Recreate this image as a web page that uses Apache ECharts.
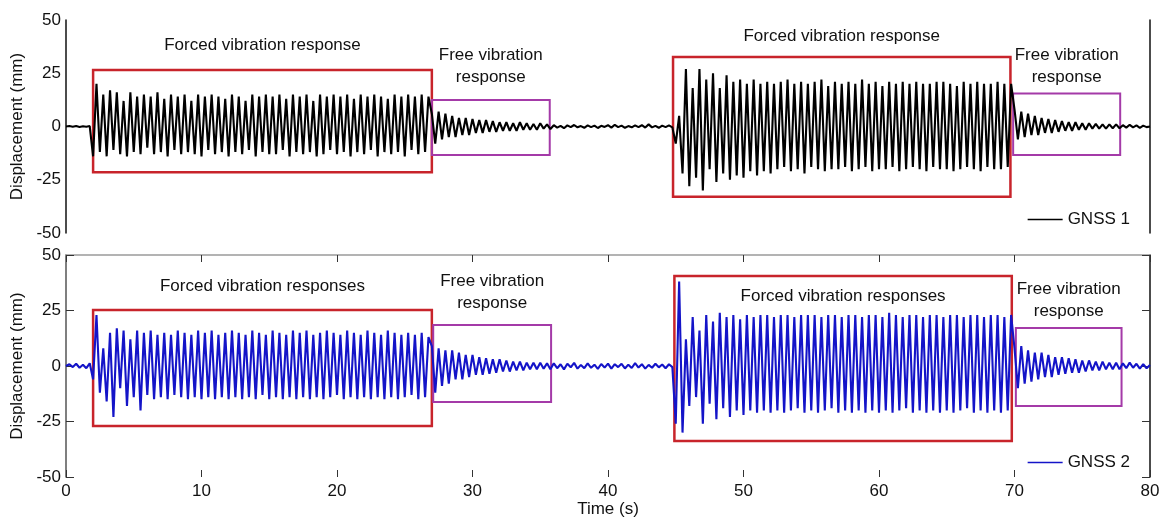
<!DOCTYPE html>
<html>
<head>
<meta charset="utf-8">
<script src="https://cdn.jsdelivr.net/npm/echarts@6.0.0/dist/echarts.min.js"></script>
<style>
  html, body { margin: 0; background: #fff; }
  #chart { width: 1166px; height: 520px; }
</style>
</head>
<body>
<div id="chart"></div>
<script>
// one sample every half cycle (~2 Hz excitation): peaks and troughs
const SAMPLE_STEP = 0.25
const xTicks = [0, 10, 20, 30, 40, 50, 60, 70, 80]
const yTicks = [-50, -25, 0, 25, 50]

// GNSS 1 (black) displacement extremes, mm
const gnss1Pre = [0, 0.2, -0.1, 0.2, -0.2, 0.1, -0.1, 0.2]
const gnss1Forced1 = [
  -14, 20, -12, 15, -14, 17, -11, 16, -13, 12, -14, 16, -12, 14, -13, 15, -10, 14, -13, 16,
  -12, 13, -14, 15, -11, 14, -13, 15, -12, 12, -13, 15, -14, 14, -11, 15, -13, 14, -12, 13,
  -14, 15, -12, 14, -13, 12, -11, 15, -14, 14, -12, 15, -13, 14, -13, 15, -11, 13, -14, 15,
  -12, 14, -13, 15, -12, 12, -14, 15, -13, 14, -11, 15, -13, 14, -12, 15, -14, 13, -12, 15,
  -13, 14, -11, 15, -14, 14, -12, 13, -13, 15, -12, 14, -14, 15, -11, 14, -13, 15, -12, 14,
]
const gnss1Free1 = [
  6, -8, 7, -6, 6, -5, 5, -5, 4, -4, 4, -4, 3.5, -3, 3, -3, 3, -2.5,
  2.5, -2.5, 2, -2, 2, -2, 1.5, -2, 2, -1.5, 1.5, -1.5, 1.2, -1.5, 1.5, -1, 1, -1.2,
]
const gnss1Quiet = [
  0.6, -0.5, 0.3, -0.8, 0.5, -0.3, 0.7, -0.4, 0.2, -0.6, 0.5, -0.3, 0.4, -0.7, 0.3, -0.2, 0.6, -0.5,
  0.8, -0.3, 0.4, -0.6, 0.2, -0.4, 0.5, -0.3, 0.6, -0.5, 1.0, -0.4, 0.3, -0.6, 0.4, -0.3, 0.5, -0.4,
]
const gnss1Forced2 = [
  -8, 5, -22, 27, -28, 18, -24, 27, -30, 22, -20, 25, -26, 18, -22, 24, -25, 21, -23, 22,
  -24, 20, -21, 22, -23, 20, -21, 21, -22, 20, -20, 21, -19, 22, -21, 20, -20, 21, -22, 20,
  -19, 21, -20, 22, -21, 19, -20, 21, -20, 20, -19, 21, -21, 20, -20, 22, -19, 20, -21, 21,
  -20, 19, -20, 21, -19, 20, -21, 21, -20, 20, -19, 21, -20, 20, -21, 20, -19, 21, -20, 21,
  -20, 20, -21, 19, -20, 21, -19, 20, -20, 21, -21, 20, -19, 20, -20, 21, -20, 20, -19, 20,
]
const gnss1Free2 = [
  8, -6, 7, -5, 6, -4, 5, -4, 4, -3, 3.5, -3, 3, -2.5, 2.5, -2,
  2, -2, 2, -1.5, 1.5, -1.5, 1.5, -1, 1.2, -1, 1, -1, 1, -0.8, 1, -0.8,
]
const gnss1Post = [0.6, -0.5, 0.8, -0.4, 0.5, -0.6, 0.4, -0.3, 0]

// GNSS 2 (blue) displacement extremes, mm
const gnss2Pre = [0, 0.8, -0.5, 1, -0.8, 0.6, -1, 1.2]
const gnss2Forced1 = [
  -6, 23, -12, 8, -16, 15, -23, 17, -10, 16, -18, 12, -14, 16, -20, 15, -13, 16, -15, 14,
  -14, 15, -15, 14, -13, 16, -14, 15, -15, 14, -14, 16, -15, 15, -14, 16, -15, 14, -14, 15,
  -15, 16, -14, 15, -15, 14, -14, 16, -15, 15, -13, 14, -15, 16, -14, 15, -15, 14, -14, 16,
  -15, 15, -14, 16, -15, 14, -14, 15, -15, 16, -14, 15, -13, 14, -15, 16, -14, 15, -15, 14,
  -14, 16, -15, 15, -14, 14, -15, 16, -14, 15, -15, 14, -14, 15, -13, 14, -15, 15, -14, 13,
]
const gnss2Free1 = [
  9, -12, 8, -9, 7, -8, 7, -6, 6, -6, 5, -5, 5, -4, 4, -4, 3.5, -3.5,
  3, -3, 3, -2.5, 2.5, -2.5, 2, -2, 2, -2, 1.5, -1.5, 1.5, -1.5, 1.5, -1.2, 1.2, -1.5,
]
const gnss2Quiet = [
  1.2, -1, 0.8, -1.5, 1, -0.6, 1.4, -1.2, 0.5, -1, 1.2, -0.8, 0.6, -1.3, 0.9, -0.7, 1.1, -1.2,
  0.8, -0.5, 1.0, -1.1, 0.6, -0.9, 1.3, -0.7, 0.8, -1.2, 0.5, -0.8, 1.0, -0.6, 0.7, -1, 0.8, -0.5,
]
const gnss2Forced2 = [
  -26, 38, -30, 12, -18, 22, -14, 16, -26, 23, -17, 20, -24, 24, -19, 22, -23, 23, -20, 21,
  -22, 23, -20, 22, -21, 23, -20, 23, -21, 22, -20, 23, -21, 23, -20, 22, -19, 23, -21, 23,
  -20, 23, -21, 22, -20, 23, -19, 23, -21, 22, -20, 23, -21, 23, -20, 22, -21, 23, -20, 23,
  -21, 22, -20, 24, -21, 23, -20, 22, -19, 23, -21, 23, -20, 22, -21, 23, -20, 23, -21, 22,
  -20, 23, -21, 23, -20, 22, -19, 23, -21, 23, -20, 22, -21, 23, -20, 23, -21, 22, -20, 23,
]
const gnss2Free2 = [
  8, -10, 9, -8, 7, -7, 6, -6, 6, -5, 5, -5, 4, -4, 4, -3.5,
  3.5, -3, 3, -3, 2.5, -2.5, 2.5, -2, 2, -2, 2, -1.5, 1.5, -1.5, 1.5, -1.5,
]
const gnss2Post = [1.2, -1, 1.5, -0.8, 1, -1.2, 0.8, -1, 0.5]

// annotation boxes: [t start, t end, y min, y max] in data units
const gnss1Boxes = [[2, 27, -21.5, 26.5], [27, 35.7, -13.4, 12.4], [44.8, 69.7, -33, 32.6], [69.9, 77.8, -13.4, 15.5]]
const gnss2Boxes = [[2, 27, -27, 25.2], [27.1, 35.8, -16.2, 18.5], [44.9, 69.8, -33.8, 40.5], [70.1, 77.9, -18, 17.1]]
const gnss1Notes = ['Forced vibration response', 'Free vibration\nresponse', 'Forced vibration response', 'Free vibration\nresponse']
const gnss2Notes = ['Forced vibration responses', 'Free vibration\nresponse', 'Forced vibration responses', 'Free vibration\nresponse']
const boxKinds = ['forced', 'free', 'forced', 'free']

const FONT = '"Liberation Sans", Arial, sans-serif'

const toSeries = (parts) => parts.flat().map((v, i) => [i * SAMPLE_STEP, v])

const gnss1Data = toSeries([gnss1Pre, gnss1Forced1, gnss1Free1, gnss1Quiet, gnss1Forced2, gnss1Free2, gnss1Post])
const gnss2Data = toSeries([gnss2Pre, gnss2Forced1, gnss2Free1, gnss2Quiet, gnss2Forced2, gnss2Free2, gnss2Post])

// label gap above each box (px); a negative gap puts the note inside the box top
const gnss1Gaps = [12, 11, 8, 4]
const gnss2Gaps = [11, 10, -10, 5]

const buildBoxes = (boxes, notes, gaps) =>
  boxes.map(([x0, x1, y0, y1], i) => {
    const forced = boxKinds[i] === 'forced'
    const inside = gaps[i] < 0
    return [
      {
        coord: [x0, y1],
        itemStyle: {
          color: 'rgba(0,0,0,0)',
          borderColor: forced ? '#c8242b' : '#a43aa8',
          borderWidth: forced ? 2.5 : 2,
        },
        label: {
          show: true,
          formatter: notes[i],
          position: inside ? 'insideTop' : 'top',
          distance: Math.abs(gaps[i]),
          color: '#111',
          fontFamily: FONT,
          fontSize: 17,
          lineHeight: 22,
          align: 'center',
        },
      },
      { coord: [x1, y0] },
    ]
  })

const chart = echarts.init(document.getElementById('chart'))

const yAxisBase = {
  type: 'value',
  min: -50,
  max: 50,
  interval: 25,
  splitLine: { show: false },
}

const legendBase = {
  icon: 'rect',
  itemWidth: 35,
  itemHeight: 1.5,
  itemGap: 6,
  textStyle: { color: '#111', fontFamily: FONT, fontSize: 17 },
}

const yTitle = {
  name: 'Displacement (mm)', nameLocation: 'middle', nameGap: 35,
  nameTextStyle: { color: '#111', fontFamily: FONT, fontSize: 17 },
}

const yLabels = {
  color: '#111', fontFamily: FONT, fontSize: 17, margin: 5,
  formatter: (v) => (yTicks.includes(v) ? String(v) : ''),
}

chart.setOption({
  animation: false,
  grid: [
    { left: 66, right: 16, top: 20, height: 213 },
    { left: 66, right: 16, top: 255, height: 222 },
  ],
  legend: [
    { ...legendBase, data: ['GNSS 1'], right: 31, top: 206 },
    { ...legendBase, data: ['GNSS 2'], right: 31, top: 449 },
  ],
  xAxis: [
    {
      type: 'value', gridIndex: 0, min: 0, max: 80, interval: 10,
      axisLine: { show: false, onZero: false }, axisTick: { show: false }, axisLabel: { show: false },
      splitLine: { show: false },
    },
    {
      type: 'value', gridIndex: 1, position: 'bottom', min: 0, max: 80, interval: 10,
      name: 'Time (s)', nameLocation: 'middle', nameGap: 23,
      nameTextStyle: { color: '#111', fontFamily: FONT, fontSize: 17 },
      axisLine: { show: false, onZero: false },
      axisTick: { show: true, inside: true, length: 7, lineStyle: { color: '#333' } },
      axisLabel: {
        color: '#111', fontFamily: FONT, fontSize: 17, margin: 6,
        formatter: (v) => (xTicks.includes(v) ? String(v) : ''),
      },
      splitLine: { show: false },
    },
    {
      type: 'value', gridIndex: 1, position: 'top', min: 0, max: 80, interval: 10,
      axisLine: { show: true, onZero: false, lineStyle: { color: '#9a9a9a', width: 1.5 } },
      axisTick: { show: true, inside: true, length: 7, lineStyle: { color: '#333' } },
      axisLabel: { show: false },
      splitLine: { show: false },
    },
  ],
  yAxis: [
    {
      ...yAxisBase, ...yTitle, gridIndex: 0, position: 'left',
      axisLine: { show: true, onZero: false, lineStyle: { color: '#111', width: 1.5 } },
      axisTick: { show: false },
      axisLabel: yLabels,
    },
    {
      ...yAxisBase, gridIndex: 0, position: 'right',
      axisLine: { show: true, onZero: false, lineStyle: { color: '#111', width: 1.5 } },
      axisTick: { show: false }, axisLabel: { show: false },
    },
    {
      ...yAxisBase, ...yTitle, gridIndex: 1, position: 'left',
      axisLine: { show: true, onZero: false, lineStyle: { color: '#555', width: 1.5 } },
      axisTick: { show: true, inside: true, length: 8, lineStyle: { color: '#333' } },
      axisLabel: yLabels,
    },
    {
      ...yAxisBase, gridIndex: 1, position: 'right',
      axisLine: { show: true, onZero: false, lineStyle: { color: '#111', width: 1.5 } },
      axisTick: { show: true, inside: true, length: 8, lineStyle: { color: '#333' } },
      axisLabel: { show: false },
    },
  ],
  series: [
    {
      name: 'GNSS 1',
      type: 'line',
      xAxisIndex: 0,
      yAxisIndex: 0,
      data: gnss1Data,
      symbol: 'none',
      color: '#000',
      lineStyle: { color: '#000', width: 2.1 },
      markArea: { silent: true, data: buildBoxes(gnss1Boxes, gnss1Notes, gnss1Gaps) },
    },
    {
      name: 'GNSS 2',
      type: 'line',
      xAxisIndex: 1,
      yAxisIndex: 2,
      data: gnss2Data,
      symbol: 'none',
      color: '#1414c8',
      lineStyle: { color: '#1414c8', width: 2.1 },
      markArea: { silent: true, data: buildBoxes(gnss2Boxes, gnss2Notes, gnss2Gaps) },
    },
  ],
})
</script>
</body>
</html>
